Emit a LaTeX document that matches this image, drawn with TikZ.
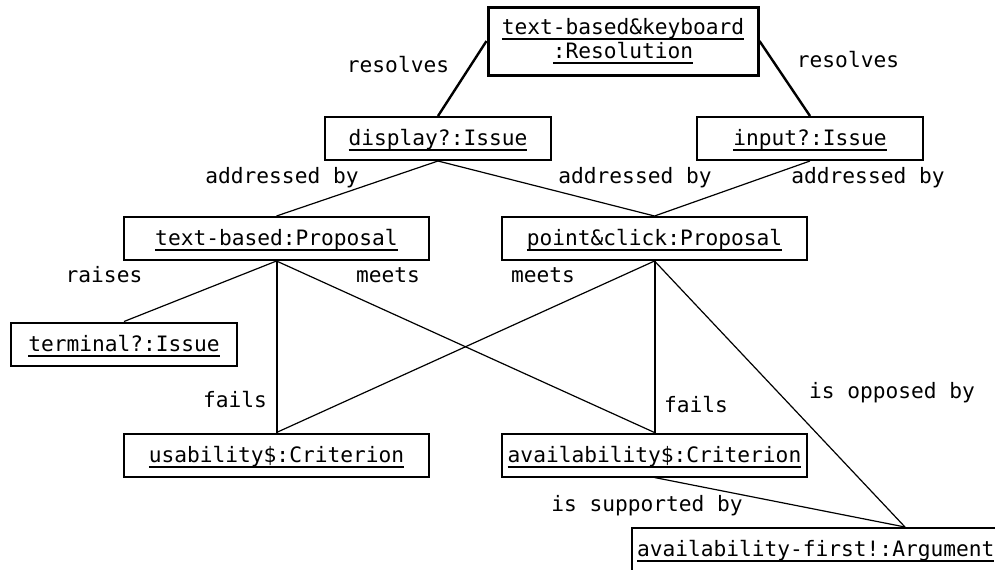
\documentclass[tikz,border=0pt]{standalone}
\usepackage{fontspec}
\setmonofont{DejaVu Sans Mono}
\newcommand\ulx[1]{{\setbox0\hbox{#1}\rlap{\rule[-2.8pt]{\wd0}{0.9pt}}\box0}}
\begin{document}
\begin{tikzpicture}[x=0.5pt,y=-0.5pt,
  font=\ttfamily\fontsize{10.6}{10}\selectfont,
  box/.style={draw, line width=1pt, inner sep=0pt, text height=9pt, text depth=2pt, minimum height=21.5pt},
  wide/.style={box, minimum width=152.5pt},
  narrow/.style={box, minimum width=113pt},
  thinline/.style={line width=0.6pt},
  heavy/.style={line width=1pt},
  lbl/.style={anchor=base, inner sep=0pt}]
\path[use as bounding box, clip] (0,0) rectangle (995,569);
\fill[white] (0,0) rectangle (995,569);
% nodes
\node[draw, line width=1.5pt, minimum width=135pt, minimum height=34pt, inner sep=0pt, align=center] (res) at (623,41)
  {\ulx{text-based\&keyboard}\\\ulx{:Resolution}};
\node[narrow] (disp) at (438,138.5) {\ulx{display?:Issue}};
\node[narrow] (inp) at (810,138.5) {\ulx{input?:Issue}};
\node[wide] (tb) at (276.5,238.5) {\ulx{text-based:Proposal}};
\node[wide] (pc) at (654.5,238.5) {\ulx{point\&click:Proposal}};
\node[narrow] (term) at (124,344) {\ulx{terminal?:Issue}};
\node[wide] (use) at (276.5,455) {\ulx{usability\$:Criterion}};
\node[wide] (avail) at (654.5,455) {\ulx{availability\$:Criterion}};
\node[box, minimum height=25pt, text height=6pt, text depth=3pt, inner xsep=2.5pt, text width=268pt, align=left] (arg) at (905,553) {\ulx{availability-first!:Argument}};
% connectors
\draw[line width=1.2pt] (res.west) -- (disp.north);
\draw[line width=1.2pt] (res.east) -- (inp.north);
\draw[thinline] (disp.south) -- (tb.north);
\draw[thinline] (disp.south) -- (pc.north);
\draw[thinline] (inp.south) -- (pc.north);
\draw[thinline] (tb.south) -- (term.north);
\draw[heavy] (tb.south) -- (use.north);
\draw[thinline] (tb.south) -- (avail.north);
\draw[thinline] (pc.south) -- (use.north);
\draw[heavy] (pc.south) -- (avail.north);
\draw[thinline] (pc.south) -- (arg.north);
\draw[thinline] (avail.south) -- (arg.north);
% labels
\node[lbl] (l1) at (398,72) {resolves};
\node[lbl] (l2) at (848,67) {resolves};
\node[lbl] (l3) at (282,183) {addressed by};
\node[lbl] (l4) at (635,183) {addressed by};
\node[lbl] (l5) at (868,183) {addressed by};
\node[lbl] (l6) at (104,282) {raises};
\node[lbl] (l7) at (388,282) {meets};
\node[lbl] (l8) at (543,282) {meets};
\node[lbl] (l9) at (235,407) {fails};
\node[lbl] (l10) at (696,412) {fails};
\node[lbl] (l11) at (892,398) {is opposed by};
\node[lbl] (l12) at (647,511) {is supported by};
\end{tikzpicture}
\end{document}
